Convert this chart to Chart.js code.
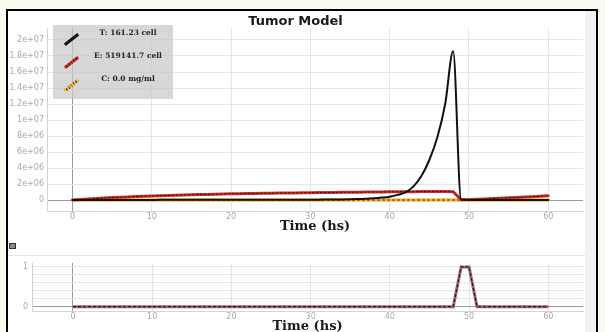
<!DOCTYPE html>
<html>
<head>
<meta charset="utf-8">
<title>Tumor Model</title>
<script src="https://cdn.jsdelivr.net/npm/chart.js@4"></script>
<style>
  html, body { margin: 0; padding: 0; }
  body { width: 605px; height: 332px; overflow: hidden; background: #fbfbf2; position: relative; font-family: "DejaVu Sans", sans-serif; }
  #frame { position: absolute; left: 6px; top: 9px; width: 588px; height: 330px; border: 2px solid #000; border-bottom: none; background: #fff; }
  #scroll { position: absolute; left: 585px; top: 11px; width: 11px; height: 321px; background: #f2f2f2; }
  #sep { position: absolute; left: 8px; top: 255px; width: 577px; height: 1px; background: #e4e4e4; }
  #icon { position: absolute; left: 9px; top: 243px; width: 5px; height: 4px; border: 1px solid #333; background: #888; }
  .box { position: absolute; left: 0; width: 605px; }
  #topBox { top: 0; height: 240px; }
  #botBox { top: 240px; height: 92px; }
  #legend { position: absolute; left: 53px; top: 25px; width: 120px; height: 74px; background: rgba(200, 200, 200, 0.72); z-index: 5; }
  .row { position: absolute; left: 0; width: 120px; height: 23px; }
  .ico { position: absolute; left: 10px; top: 10px; width: 17px; height: 3px; transform: rotate(-38deg); }
  .txt { position: absolute; left: 30px; width: 90px; top: 0; line-height: 23px; text-align: center; font: bold 7.5px "DejaVu Serif", serif; color: #222; }
</style>
</head>
<body>
<div id="frame"></div>
<div id="scroll"></div>
<div id="sep"></div>
<div id="icon"></div>
<div class="box" id="topBox"><canvas id="tumor-canvas" width="605" height="240"></canvas></div>
<div class="box" id="botBox"><canvas id="dose-canvas" width="605" height="92"></canvas></div>
<div id="legend">
  <div class="row" style="top:3px"><span class="ico" style="background:#111"></span><span class="txt" id="lgT"></span></div>
  <div class="row" style="top:26px"><span class="ico" style="background:repeating-linear-gradient(90deg,#cf2f2c 0 2px,#5a1414 2px 3px)"></span><span class="txt" id="lgE"></span></div>
  <div class="row" style="top:49px"><span class="ico" style="background:repeating-linear-gradient(90deg,#f0b04a 0 2px,#6a5020 2px 3px)"></span><span class="txt" id="lgC"></span></div>
</div>
<script>
const timeHs = [
  0, 1, 2, 3, 4, 5, 6, 7, 8, 9, 10, 11, 12, 13, 14, 15, 16, 17, 18, 19, 20,
  21, 22, 23, 24, 25, 26, 27, 28, 29, 30, 31, 32, 33, 34, 35, 36, 37, 38, 39, 40,
  41, 42, 43, 44, 45, 46, 47, 48, 49, 50, 51, 52, 53, 54, 55, 56, 57, 58, 59, 60
]

// T (cells)
const tumorCells = [
  10000, 10000, 10500, 11000, 11500, 12000, 12500, 13000, 13500, 14000, 15000,
  16000, 17000, 18000, 19000, 20000, 21000, 22000, 23000, 24000, 25000,
  26000, 27000, 28000, 29000, 30000, 31000, 32000, 34000, 36000, 40000,
  45000, 52000, 60000, 70000, 85000, 110000, 150000, 210000, 300000, 420000,
  640000, 960000, 1700000, 3000000, 5000000, 7800000, 12000000, 18600000, 60000, 12000,
  5000, 2500, 1500, 900, 600, 400, 300, 240, 190, 161.23
]

// E (cells)
const effectorCells = [
  0, 70000, 130000, 190000, 250000, 300000, 350000, 390000, 430000, 470000, 510000,
  540000, 570000, 600000, 630000, 660000, 680000, 700000, 730000, 750000, 770000,
  790000, 800000, 820000, 840000, 850000, 870000, 880000, 890000, 900000, 920000,
  930000, 940000, 950000, 960000, 970000, 980000, 990000, 1000000, 1010000, 1020000,
  1030000, 1040000, 1040000, 1050000, 1050000, 1050000, 1050000, 1040000, 40000, 50000,
  90000, 140000, 180000, 230000, 280000, 320000, 370000, 420000, 470000, 519141.7
]

// C (mg/ml)
const drugConc = [
  0, 0, 0, 0, 0, 0, 0, 0, 0, 0, 0,
  0, 0, 0, 0, 0, 0, 0, 0, 0, 0,
  0, 0, 0, 0, 0, 0, 0, 0, 0, 0,
  0, 0, 0, 0, 0, 0, 0, 0, 0, 0,
  0, 0, 0, 0, 0, 0, 0, 0, 0, 0,
  0, 0, 0, 0, 0, 0, 0, 0, 0, 0
]

// dose schedule (lower panel)
const doseOn = [
  0, 0, 0, 0, 0, 0, 0, 0, 0, 0, 0,
  0, 0, 0, 0, 0, 0, 0, 0, 0, 0,
  0, 0, 0, 0, 0, 0, 0, 0, 0, 0,
  0, 0, 0, 0, 0, 0, 0, 0, 0, 0,
  0, 0, 0, 0, 0, 0, 0, 0, 1, 1,
  0, 0, 0, 0, 0, 0, 0, 0, 0, 0
]

const timeTicks = [0, 10, 20, 30, 40, 50, 60]
const cellTicks = [0, 2e6, 4e6, 6e6, 8e6, 1e7, 1.2e7, 1.4e7, 1.6e7, 1.8e7, 2e7]
const doseTicks = [0, 0.2, 0.4, 0.6, 0.8, 1]
const doseLabels = [0, 1]

const pts = (ys) => timeHs.map((t, i) => ({ x: t, y: ys[i] }))
const setTicks = (vals) => (scale) => { scale.ticks = vals.map((v) => ({ value: v })) }

const tickFont = { family: "DejaVu Sans", size: 8 }
const tickColor = "#a8a8a8"
const titleFont = { family: "DejaVu Serif", size: 13, weight: "bold", lineHeight: 1 }
const gridColor = (ctx) => (ctx.tick && ctx.tick.value === 0 ? "#9a9a9a" : "#e6e6e6")

document.getElementById("lgT").textContent = "T: " + tumorCells[tumorCells.length - 1] + " cell"
document.getElementById("lgE").textContent = "E: " + effectorCells[effectorCells.length - 1] + " cell"
document.getElementById("lgC").textContent = "C: " + drugConc[drugConc.length - 1].toFixed(1) + " mg/ml"

// Tumor model chart
new Chart(document.getElementById("tumor-canvas"), {
  type: "line",
  data: {
    datasets: [
      { label: "T", data: pts(tumorCells), borderColor: "#111", borderWidth: 2, cubicInterpolationMode: "monotone" },
      { label: "E dots", data: pts(effectorCells), borderColor: "#4a1212", borderWidth: 1, borderDash: [2, 2] },
      { label: "E", data: pts(effectorCells), borderColor: "#d0302c", borderWidth: 3 },
      { label: "C dots", data: pts(drugConc), borderColor: "#3a2a10", borderWidth: 1, borderDash: [2, 3] },
      { label: "C", data: pts(drugConc), borderColor: "#f5bd4a", borderWidth: 3.5 },
    ],
  },
  options: {
    responsive: false,
    animation: false,
    elements: { point: { radius: 0 }, line: { borderCapStyle: "round" } },
    layout: { padding: { left: 8, right: 22, top: 15, bottom: 6 } },
    plugins: {
      legend: { display: false },
      tooltip: { enabled: false },
      title: {
        display: true,
        text: "Tumor Model",
        color: "#1a1a1a",
        font: { family: "DejaVu Sans", size: 13, weight: "bold", lineHeight: 1 },
        padding: { top: 0, bottom: 0 },
      },
    },
    scales: {
      x: {
        type: "linear",
        min: -3.22,
        max: 64.38,
        afterFit: (s) => { s.height = 23 },
        afterBuildTicks: setTicks(timeTicks),
        grid: { color: gridColor, drawTicks: false },
        border: { color: "#d4d4d4" },
        ticks: { font: tickFont, color: tickColor, padding: 1, maxRotation: 0, autoSkip: false },
        title: { display: true, text: "Time (hs)", color: "#1a1a1a", font: titleFont, padding: { top: 0, bottom: 1 } },
      },
      y: {
        min: -1.375e6,
        max: 2.15e7,
        afterFit: (s) => { s.width = 39 },
        afterBuildTicks: setTicks(cellTicks),
        grid: { color: gridColor, drawTicks: false },
        border: { color: "#d4d4d4" },
        ticks: {
          font: tickFont,
          color: tickColor,
          padding: 3,
          autoSkip: false,
          callback: (v) => (v === 0 ? "0" : v.toExponential().replace(/e\+(\d)$/, "e+0$1")),
        },
      },
    },
  },
})

// Dose chart
new Chart(document.getElementById("dose-canvas"), {
  type: "line",
  data: {
    datasets: [
      { label: "dose dots", data: pts(doseOn), borderColor: "#2a1a22", borderWidth: 1.2, borderDash: [3, 2] },
      { label: "dose", data: pts(doseOn), borderColor: "#a0607f", borderWidth: 3 },
    ],
  },
  options: {
    responsive: false,
    animation: false,
    elements: { point: { radius: 0 } },
    layout: { padding: { left: 8, right: 22, top: 23, bottom: 0 } },
    plugins: { legend: { display: false }, tooltip: { enabled: false } },
    scales: {
      x: {
        type: "linear",
        min: -5.17,
        max: 64.38,
        afterFit: (s) => { s.height = 21 },
        afterBuildTicks: setTicks(timeTicks),
        grid: { color: gridColor, drawTicks: false },
        border: { color: "#d4d4d4" },
        ticks: { font: tickFont, color: tickColor, padding: 1, maxRotation: 0, autoSkip: false },
        title: { display: true, text: "Time (hs)", color: "#1a1a1a", font: titleFont, padding: { top: 0, bottom: -1 } },
      },
      y: {
        min: -0.11,
        max: 1.1,
        afterFit: (s) => { s.width = 24 },
        afterBuildTicks: setTicks(doseTicks),
        grid: { color: gridColor, drawTicks: false },
        border: { color: "#d4d4d4" },
        ticks: {
          font: tickFont,
          color: tickColor,
          padding: 4,
          autoSkip: false,
          callback: (v) => (doseLabels.includes(v) ? String(v) : ""),
        },
      },
    },
  },
})
</script>
</body>
</html>
